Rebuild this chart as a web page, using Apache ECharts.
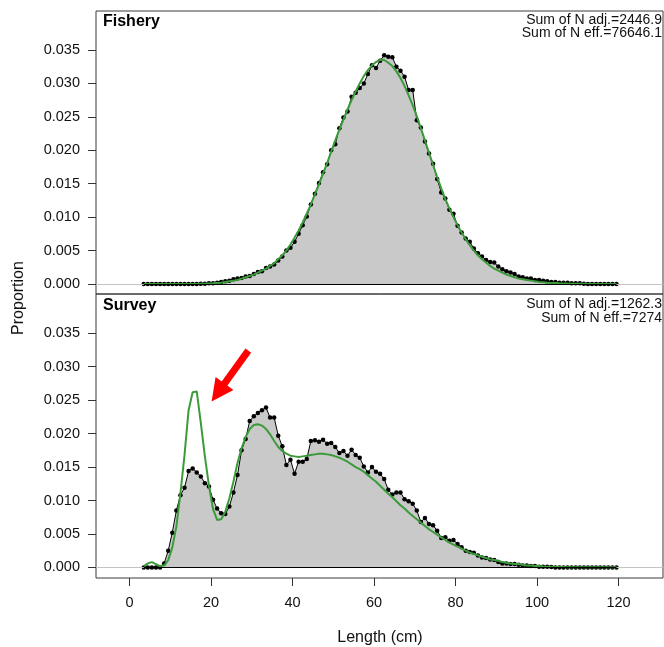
<!DOCTYPE html>
<html>
<head>
<meta charset="utf-8">
<script src="https://cdn.jsdelivr.net/npm/echarts@6.0.0/dist/echarts.min.js"></script>
<style>
  html, body { margin: 0; padding: 0; background: #fff; }
  #main { width: 664px; height: 647px; }
</style>
</head>
<body>
<div id="main"></div>
<script>
// length bins (cm)
const lengths = [
  3.5, 4.5, 5.5, 6.5, 7.5, 8.5, 9.5, 10.5, 11.5, 12.5,
  13.5, 14.5, 15.5, 16.5, 17.5, 18.5, 19.5, 20.5, 21.5, 22.5,
  23.5, 24.5, 25.5, 26.5, 27.5, 28.5, 29.5, 30.5, 31.5, 32.5,
  33.5, 34.5, 35.5, 36.5, 37.5, 38.5, 39.5, 40.5, 41.5, 42.5,
  43.5, 44.5, 45.5, 46.5, 47.5, 48.5, 49.5, 50.5, 51.5, 52.5,
  53.5, 54.5, 55.5, 56.5, 57.5, 58.5, 59.5, 60.5, 61.5, 62.5,
  63.5, 64.5, 65.5, 66.5, 67.5, 68.5, 69.5, 70.5, 71.5, 72.5,
  73.5, 74.5, 75.5, 76.5, 77.5, 78.5, 79.5, 80.5, 81.5, 82.5,
  83.5, 84.5, 85.5, 86.5, 87.5, 88.5, 89.5, 90.5, 91.5, 92.5,
  93.5, 94.5, 95.5, 96.5, 97.5, 98.5, 99.5, 100.5, 101.5, 102.5,
  103.5, 104.5, 105.5, 106.5, 107.5, 108.5, 109.5, 110.5, 111.5, 112.5,
  113.5, 114.5, 115.5, 116.5, 117.5, 118.5, 119.5
];

const fisheryObs = [
  0, 0, 0, 0, 0, 0, 0, 0, 0, 0,
  0, 0, 0, 0, 0.00003, 0.00005, 0.0001, 0.0001, 0.0002, 0.0003,
  0.0004, 0.0005, 0.0007, 0.0008, 0.0009, 0.0011, 0.0012, 0.0015, 0.0018, 0.0019,
  0.0024, 0.0026, 0.0029, 0.0035, 0.0041, 0.0050, 0.0054, 0.0063, 0.0075, 0.0088,
  0.0101, 0.0119, 0.0135, 0.0151, 0.0167, 0.0179, 0.0200, 0.0209, 0.0233, 0.0249,
  0.0258, 0.0280, 0.0286, 0.0293, 0.0300, 0.0314, 0.0327, 0.0323, 0.0334, 0.0342,
  0.0340, 0.0339, 0.0325, 0.0319, 0.0310, 0.0290, 0.0290, 0.0245, 0.0234, 0.0213,
  0.0195, 0.0180, 0.0157, 0.0137, 0.0128, 0.0111, 0.0105, 0.0087, 0.0077, 0.0068,
  0.0063, 0.0053, 0.0046, 0.0041, 0.0036, 0.0033, 0.0032, 0.0026, 0.0022, 0.0019,
  0.0017, 0.0015, 0.0011, 0.0010, 0.0008, 0.0008, 0.0006, 0.0006, 0.0005, 0.0004,
  0.0003, 0.0003, 0.0002, 0.0002, 0.0002, 0.0001, 0.0001, 0.0001, 0.00005, 0,
  0, 0, 0, 0, 0, 0, 0
];

const fisheryExp = [
  0, 0, 0, 0, 0, 0, 0, 0, 0, 0,
  0, 0, 0, 0, 0.00002, 0.00004, 0.00007, 0.0001, 0.00015, 0.0002,
  0.0003, 0.0004, 0.0005, 0.0006, 0.0008, 0.0010, 0.0012, 0.0014, 0.0017, 0.0020,
  0.0023, 0.0027, 0.0031, 0.0037, 0.0043, 0.0050, 0.0059, 0.0069, 0.0080, 0.0092,
  0.0105, 0.0119, 0.0134, 0.0149, 0.0165, 0.0181, 0.0198, 0.0215, 0.0231, 0.0246,
  0.0261, 0.0275, 0.0288, 0.0300, 0.0311, 0.0320, 0.0327, 0.0332, 0.0335, 0.0335,
  0.0331, 0.0326, 0.0318, 0.0308, 0.0296, 0.0282, 0.0267, 0.0251, 0.0233, 0.0215,
  0.0196, 0.0178, 0.0160, 0.0143, 0.0127, 0.0113, 0.0100, 0.0088, 0.0077, 0.0067,
  0.0058, 0.0050, 0.0043, 0.0037, 0.0032, 0.0027, 0.0023, 0.0020, 0.0017, 0.0014,
  0.0012, 0.0010, 0.0008, 0.0007, 0.0006, 0.0005, 0.0004, 0.0003, 0.00025, 0.0002,
  0.00016, 0.00013, 0.0001, 0.00008, 0.00006, 0.00005, 0.00004, 0.00003, 0.00002, 0.00001,
  0.00001, 0, 0, 0, 0, 0, 0
];

const surveyObs = [
  0, 0, 0, 0, 0, 0.0006, 0.0025, 0.0052, 0.0085, 0.0108,
  0.0119, 0.0144, 0.0148, 0.0142, 0.0136, 0.0126, 0.0121, 0.0101, 0.0088, 0.0081,
  0.0080, 0.0091, 0.0112, 0.0138, 0.0175, 0.0192, 0.0219, 0.0226, 0.0231, 0.0235,
  0.0239, 0.0224, 0.0224, 0.0197, 0.0181, 0.0153, 0.0161, 0.0140, 0.0158, 0.0158,
  0.0162, 0.0189, 0.0190, 0.0188, 0.0191, 0.0185, 0.0186, 0.0180, 0.0171, 0.0174,
  0.0167, 0.0176, 0.0168, 0.0164, 0.0151, 0.0142, 0.0150, 0.0143, 0.0140, 0.0132,
  0.0116, 0.0109, 0.0112, 0.0112, 0.0102, 0.0099, 0.0095, 0.0085, 0.0068, 0.0074,
  0.0065, 0.0063, 0.0055, 0.0044, 0.0045, 0.0040, 0.0041, 0.0035, 0.0030, 0.0025,
  0.0023, 0.0022, 0.0018, 0.0015, 0.0014, 0.0012, 0.0011, 0.0008, 0.0006, 0.0006,
  0.0005, 0.0005, 0.0004, 0.0003, 0.0003, 0.0002, 0.0002, 0.0001, 0.0001, 0.0001,
  0.00005, 0, 0, 0, 0, 0, 0, 0, 0, 0,
  0, 0, 0, 0, 0, 0, 0
];

const surveyExp = [
  0.0002, 0.0006, 0.0008, 0.0005, 0.0002, 0.0003, 0.0011, 0.0030, 0.0061, 0.0111,
  0.0168, 0.0235, 0.0262, 0.0263, 0.0216, 0.0166, 0.0122, 0.0087, 0.0071, 0.0072,
  0.0083, 0.0103, 0.0128, 0.0156, 0.0178, 0.0195, 0.0207, 0.0213, 0.0214, 0.0212,
  0.0207, 0.0199, 0.0189, 0.0180, 0.0174, 0.0170, 0.0167, 0.0166, 0.0165, 0.0166,
  0.0167, 0.0168, 0.0169, 0.0170, 0.0170, 0.0169, 0.0168, 0.0166, 0.0164, 0.0161,
  0.0158, 0.0154, 0.0150, 0.0147, 0.0143, 0.0138, 0.0133, 0.0128, 0.0122, 0.0116,
  0.0110, 0.0105, 0.0099, 0.0093, 0.0088, 0.0082, 0.0077, 0.0072, 0.0067, 0.0062,
  0.0057, 0.0053, 0.0049, 0.0045, 0.0041, 0.0037, 0.0034, 0.0031, 0.0028, 0.0025,
  0.0022, 0.0020, 0.0018, 0.0016, 0.0014, 0.0012, 0.0011, 0.0010, 0.0008, 0.0007,
  0.0006, 0.0005, 0.0005, 0.0004, 0.0003, 0.0003, 0.0002, 0.0002, 0.00015, 0.00012,
  0.0001, 0.00008, 0.00006, 0.00005, 0.00004, 0.00003, 0.00002, 0.00002, 0.00001, 0.00001,
  0.00001, 0.00001, 0.00001, 0.00001, 0.00001, 0.00001, 0.00001
];

const xTicks = [0, 20, 40, 60, 80, 100, 120];
const yTicks = [0, 0.005, 0.010, 0.015, 0.020, 0.025, 0.030, 0.035];

// red arrow in survey panel: tail -> head centre (length, proportion)
const arrowFrom = [29.15, 0.0324];
const arrowTo = [21.73, 0.02615];

const FONT = '"Liberation Sans", Arial, sans-serif';
const TXT = '#111';

const pairs = vals => vals.map((v, i) => [lengths[i], v]);

const chart = echarts.init(document.getElementById('main'));

function xAx(grid, showTicks) {
  return {
    gridIndex: grid, type: 'value', min: -8.22, max: 130.92,
    axisLine: { show: false, onZero: false },
    splitLine: { show: false },
    axisTick: { show: showTicks, length: 8, customValues: xTicks, lineStyle: { color: '#333' } },
    axisLabel: { show: showTicks, customValues: xTicks, margin: 17, fontSize: 14.5, color: TXT, fontFamily: FONT }
  };
}
function yAx(grid, min, max) {
  return {
    gridIndex: grid, type: 'value', min: min, max: max,
    axisLine: { show: false, onZero: false },
    splitLine: { show: false },
    axisTick: { show: true, length: 8, customValues: yTicks, lineStyle: { color: '#333' } },
    axisLabel: { customValues: yTicks, margin: 16, fontSize: 14.5, color: TXT, fontFamily: FONT,
                 formatter: v => v.toFixed(3) }
  };
}

function obsSeries(idx, vals) {
  return {
    type: 'line', xAxisIndex: idx, yAxisIndex: idx, data: pairs(vals),
    symbol: 'circle', symbolSize: 4.5, showAllSymbol: true,
    itemStyle: { color: '#000' },
    lineStyle: { color: '#000', width: 1 },
    areaStyle: { color: '#c9c9c9', opacity: 1 },
    z: 2,
    markLine: {
      silent: true, symbol: 'none', animation: false, label: { show: false },
      data: [
        { yAxis: 0, lineStyle: { color: '#c4c4c4', width: 1, type: 'solid' } },
        [
          { coord: [lengths[0], 0], lineStyle: { color: '#000', width: 1, type: 'solid' } },
          { coord: [lengths[lengths.length - 1], 0], lineStyle: { color: '#000', width: 1, type: 'solid' } }
        ]
      ]
    }
  };
}
function expSeries(idx, vals) {
  return {
    type: 'line', xAxisIndex: idx, yAxisIndex: idx, data: pairs(vals),
    symbol: 'none', z: 3,
    lineStyle: { color: '#3b9b3b', width: 2 }
  };
}

const survExp = expSeries(1, surveyExp);
survExp.markLine = {
  silent: true, animation: false, label: { show: false },
  symbol: ['none', 'triangle'], symbolSize: 22,
  lineStyle: { color: '#ff0000', width: 7, type: 'solid' },
  data: [[
    { coord: arrowFrom, itemStyle: { color: '#ff0000' }, lineStyle: { color: '#ff0000', width: 7 } },
    { coord: arrowTo, itemStyle: { color: '#ff0000' }, lineStyle: { color: '#ff0000', width: 7 } }
  ]]
};

const option = {
  animation: false,
  backgroundColor: '#fff',
  grid: [
    { left: 96, top: 11, width: 567, height: 283, show: true, borderColor: '#3a3a3a', borderWidth: 1, backgroundColor: 'transparent' },
    { left: 96, top: 294, width: 567, height: 284, show: true, borderColor: '#3a3a3a', borderWidth: 1, backgroundColor: 'transparent' }
  ],
  xAxis: [xAx(0, false), xAx(1, true)],
  yAxis: [yAx(0, -0.0015, 0.04083), yAx(1, -0.00158, 0.04087)],
  series: [
    obsSeries(0, fisheryObs),
    expSeries(0, fisheryExp),
    obsSeries(1, surveyObs),
    survExp
  ],
  graphic: [
    { type: 'text', x: 103, y: 22, style: { text: 'Fishery', font: 'bold 16px ' + FONT, fill: '#000', align: 'left', verticalAlign: 'middle' } },
    { type: 'text', x: 662, y: 20, style: { text: 'Sum of N adj.=2446.9', font: '14px ' + FONT, fill: TXT, align: 'right', verticalAlign: 'middle' } },
    { type: 'text', x: 662, y: 33, style: { text: 'Sum of N eff.=76646.1', font: '14px ' + FONT, fill: TXT, align: 'right', verticalAlign: 'middle' } },
    { type: 'text', x: 103, y: 306, style: { text: 'Survey', font: 'bold 16px ' + FONT, fill: '#000', align: 'left', verticalAlign: 'middle' } },
    { type: 'text', x: 662, y: 304, style: { text: 'Sum of N adj.=1262.3', font: '14px ' + FONT, fill: TXT, align: 'right', verticalAlign: 'middle' } },
    { type: 'text', x: 662, y: 318, style: { text: 'Sum of N eff.=7274', font: '14px ' + FONT, fill: TXT, align: 'right', verticalAlign: 'middle' } },
    { type: 'text', x: 19, y: 298, rotation: Math.PI / 2, style: { text: 'Proportion', font: '16px ' + FONT, fill: TXT, align: 'center', verticalAlign: 'middle' } },
    { type: 'text', x: 380, y: 638, style: { text: 'Length (cm)', font: '16px ' + FONT, fill: TXT, align: 'center', verticalAlign: 'middle' } }
  ]
};

chart.setOption(option);
</script>
</body>
</html>
